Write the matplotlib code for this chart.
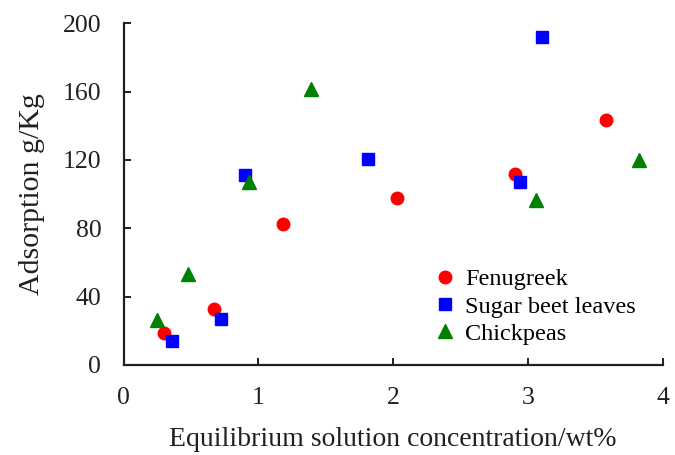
import matplotlib
matplotlib.use('Agg')
import matplotlib.pyplot as plt

# data
fenugreek_x = [0.30, 0.67, 1.18, 2.03, 2.90, 3.58]
fenugreek_y = [18.5, 32.5, 82.7, 97.9, 111.9, 143.5]
beet_x = [0.36, 0.72, 0.90, 1.81, 2.94, 3.10]
beet_y = [13.8, 26.7, 111.3, 120.3, 106.9, 191.7]
chick_x = [0.25, 0.48, 0.93, 1.39, 3.06, 3.82]
chick_y = [26.3, 53.0, 107.0, 161.6, 96.4, 120.1]

x_ticks = [0, 1, 2, 3, 4]
y_ticks = [0, 40, 80, 120, 160, 200]

plt.rcParams['font.family'] = ['Liberation Serif', 'DejaVu Serif']
axis_col = '#231f20'

fig = plt.figure(figsize=(6.75, 4.55), dpi=100)
ax = fig.add_axes([0.183, 0.198, 0.799, 0.751])

ax.plot(fenugreek_x, fenugreek_y, 'o', color='#ff0000', markersize=9, label='Fenugreek')
ax.plot(beet_x, beet_y, 's', color='#0000ff', markersize=8.5, label='Sugar beet leaves')
ax.plot(chick_x, chick_y, '^', color='#008000', markersize=9.5, label='Chickpeas')

ax.set_xlim(0, 4)
ax.set_ylim(0, 200)
ax.set_xticks(x_ticks)
ax.set_yticks(y_ticks)
ax.spines['top'].set_visible(False)
ax.spines['right'].set_visible(False)
for s in ['left', 'bottom']:
    ax.spines[s].set_color(axis_col)
    ax.spines[s].set_linewidth(1.6)
ax.tick_params(direction='in', length=5, width=1.4, color=axis_col,
               labelcolor=axis_col, labelsize=18.5)
ax.tick_params(axis='x', pad=16)
ax.tick_params(axis='y', pad=16)

ax.set_xlabel('Equilibrium solution concentration/wt%', fontsize=20, color=axis_col, labelpad=13)
ax.set_ylabel('Adsorption g/Kg', fontsize=21.5, color=axis_col, labelpad=13)

ax.legend(loc='lower left', bbox_to_anchor=(0.555, 0.03), frameon=False, fontsize=17.5,
          handletextpad=0.35, labelspacing=0.22, handlelength=1.0, borderaxespad=0)

fig.savefig('out.png', dpi=100)
